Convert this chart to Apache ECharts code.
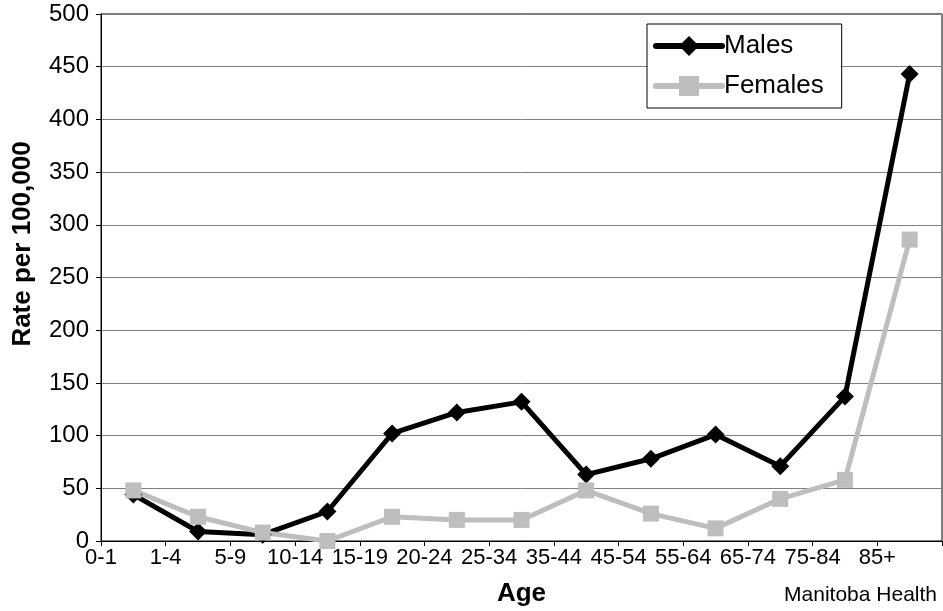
<!DOCTYPE html>
<html>
<head>
<meta charset="utf-8">
<script src="https://cdn.jsdelivr.net/npm/echarts@6/dist/echarts.min.js"></script>
<style>
html,body{margin:0;padding:0;background:#fff;}
#chart{width:943px;height:611px;}
</style>
</head>
<body>
<div id="chart"></div>
<script>
const ageLabels = ['0-1','1-4','5-9','10-14','15-19','20-24','25-34','35-44','45-54','55-64','65-74','75-84','85+'];
const males = [44, 9, 6, 28, 102, 122, 132, 63, 78, 101, 71, 137, 443];
const females = [48, 23, 8, 0, 23, 20, 20, 48, 26, 12, 40, 58, 286];
const yTicks = {min: 0, max: 500, interval: 50};
const yTitle = 'Rate per 100,000';
const xTitle = 'Age';
const sourceText = 'Manitoba Health';

const FONT = '"Liberation Sans", Arial, sans-serif';
const gridLeft = 101, gridRight = 1, gridTop = 14, gridBottom = 70;
const catW = (943 - gridLeft - gridRight) / ageLabels.length;

const chart = echarts.init(document.getElementById('chart'), null, {renderer: 'canvas'});
chart.setOption({
  animation: false,
  backgroundColor: '#fff',
  textStyle: {fontFamily: FONT},
  grid: {
    left: gridLeft, right: gridRight, top: gridTop, bottom: gridBottom,
    containLabel: false, outerBoundsMode: 'none',
    show: true, borderColor: '#000', borderWidth: 1, backgroundColor: 'transparent'
  },
  legend: {
    orient: 'vertical',
    left: 647, top: 24,
    padding: [9, 18, 9, 6],
    itemGap: 14,
    itemWidth: 66, itemHeight: 25,
    backgroundColor: '#fff',
    borderColor: '#000', borderWidth: 1,
    lineStyle: {width: 6, cap: 'round'},
    textStyle: {fontSize: 26, color: '#000', fontFamily: FONT, padding: [0, 0, 0, -3]},
    data: ['Males', 'Females']
  },
  xAxis: {
    type: 'category',
    data: ageLabels,
    boundaryGap: true,
    name: xTitle,
    nameLocation: 'middle',
    nameGap: 40,
    nameTextStyle: {fontSize: 26, fontWeight: 'bold', color: '#000', fontFamily: FONT},
    axisLine: {show: true, lineStyle: {color: '#000', width: 1}},
    axisTick: {show: true, length: 5, lineStyle: {color: '#000'}},
    axisLabel: {
      interval: 0, margin: 6, fontSize: 22, color: '#000', fontFamily: FONT,
      align: 'center', padding: [0, catW, 0, 0]
    },
    splitLine: {show: false}
  },
  yAxis: {
    type: 'value',
    min: yTicks.min, max: yTicks.max, interval: yTicks.interval,
    axisLine: {show: true, lineStyle: {color: '#000', width: 1}},
    axisTick: {show: true, length: 5, lineStyle: {color: '#000'}},
    axisLabel: {margin: 12, fontSize: 24, color: '#000', fontFamily: FONT},
    splitLine: {show: true, lineStyle: {color: '#808080', width: 1}}
  },
  graphic: [
    {
      type: 'text', x: 23, y: 244, rotation: Math.PI / 2,
      style: {text: yTitle, fontSize: 26, fontWeight: 'bold', fill: '#000', fontFamily: FONT,
        align: 'center', verticalAlign: 'middle'}
    },
    {
      type: 'text', x: 937, y: 595,
      style: {text: sourceText, fontSize: 21, fill: '#000', fontFamily: FONT,
        align: 'right', verticalAlign: 'middle'}
    }
  ],
  series: [
    {
      name: 'Males', type: 'line', data: males, clip: false,
      symbol: 'diamond', symbolSize: 18,
      lineStyle: {color: '#000', width: 5},
      itemStyle: {color: '#000'}
    },
    {
      name: 'Females', type: 'line', data: females, clip: false,
      symbol: 'rect', symbolSize: 16,
      lineStyle: {color: '#BEBEBE', width: 5},
      itemStyle: {color: '#BEBEBE'}
    }
  ]
});
</script>
</body>
</html>
